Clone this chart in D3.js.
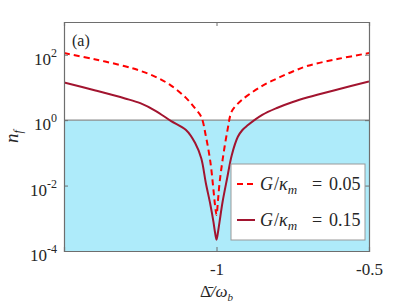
<!DOCTYPE html>
<html>
<head>
<meta charset="utf-8">
<script src="https://cdn.jsdelivr.net/npm/d3@7"></script>
<style>
  body { margin: 0; background: #fff; }
  svg { display: block; }
  svg text { font-family: 'Liberation Serif', 'DejaVu Serif', serif !important; }
</style>
</head>
<body>
<svg id="chart" width="407" height="305" font-family="Liberation Serif"></svg>
<script>
// detuning samples (Delta bar / omega_b)
var delta = [-1.5, -1.4, -1.3, -1.25, -1.2, -1.15, -1.1, -1.07, -1.05, -1.035, -1.02, -1.01, -1.005, -1,
  -0.995, -0.99, -0.98, -0.965, -0.95, -0.93, -0.915, -0.9, -0.85, -0.8, -0.75, -0.7, -0.6, -0.5];

// n_f for G/kappa_m = 0.05 (dashed)
var nfWeak = [112, 72.6, 44.4, 32.3, 21.1, 11.6, 4.8, 2.28, 1.26, 0.33, 0.052, 0.0074, 0.0026, 0.00126,
  0.0036, 0.012, 0.061, 0.44, 1.86, 3.2, 4.3, 5.5, 11.2, 19.1, 30.7, 46, 75, 112];

// n_f for G/kappa_m = 0.15 (solid)
var nfStrong = [14.2, 8.2, 4.6, 3.3, 1.93, 0.95, 0.5, 0.2, 0.068, 0.012, 0.0026, 0.00078, 0.00038, 0.00022,
  0.00038, 0.00078, 0.0032, 0.017, 0.085, 0.31, 0.5, 0.67, 1.45, 2.4, 3.6, 5.0, 8.8, 15.2];

var xTicks = [-1, -0.5];
var xTickLabels = ['-1', '-0.5'];
var yTicks = [1e-4, 1e-2, 1, 1e2];
var yTickExps = ['-4', '-2', '0', '2'];

var legendLabels = ['0.05', '0.15'];

(function() {
  'use strict';

  var margin = { left: 64, top: 22, right: 38, bottom: 54 };
  var width = 407 - margin.left - margin.right;
  var height = 305 - margin.top - margin.bottom;

  var svg = d3.select('#chart');
  var g = svg.append('g').attr('transform', 'translate(' + margin.left + ',' + margin.top + ')');

  var x = d3.scaleLinear().domain([-1.5, -0.5]).range([0, width]);
  var y = d3.scaleLog().domain([1e-4, 1e3]).range([height, 0]);

  svg.append('defs').append('clipPath').attr('id', 'plotClip')
    .append('rect').attr('width', width).attr('height', height);

  // shaded region n_f < 1
  g.append('rect')
    .attr('x', 0).attr('width', width)
    .attr('y', y(1)).attr('height', y(1e-4) - y(1))
    .attr('fill', '#aeebfa');
  g.append('line')
    .attr('x1', 0).attr('x2', width).attr('y1', y(1)).attr('y2', y(1))
    .style('stroke', '#8c8c8c').style('stroke-width', 1.2);

  var line = d3.line().curve(d3.curveCatmullRom.alpha(0.5));

  function pts(vals) {
    return delta.map(function(d, i) { return [x(d), y(vals[i])]; });
  }

  var curves = g.append('g').attr('clip-path', 'url(#plotClip)');
  curves.append('path')
    .attr('d', line(pts(nfStrong)))
    .attr('fill', 'none')
    .style('stroke', '#a2142f').style('stroke-width', 2);
  curves.append('path')
    .attr('d', line(pts(nfWeak)))
    .attr('fill', 'none')
    .style('stroke', '#ff0000').style('stroke-width', 2)
    .style('stroke-dasharray', '6,4');

  // axes (ticks inside, box on)
  var xAxis = g.append('g').attr('transform', 'translate(0,' + height + ')')
    .call(d3.axisBottom(x).tickValues(xTicks).tickSize(-4).tickFormat(function(d, i) { return xTickLabels[i]; }));
  xAxis.attr('font-family', null).attr('font-size', null);
  xAxis.selectAll('text').attr('y', 24).attr('dy', null).style('font-size', '17px');
  g.append('g')
    .call(d3.axisTop(x).tickValues(xTicks).tickSize(-4).tickFormat(''));

  g.append('g')
    .call(d3.axisLeft(y).tickValues(yTicks).tickSize(-4).tickFormat(''));
  g.append('g').attr('transform', 'translate(' + width + ',0)')
    .call(d3.axisRight(y).tickValues(yTicks).tickSize(-4).tickFormat(''));

  g.selectAll('.domain').style('stroke', '#6e6e6e').style('stroke-width', 1.2);
  g.selectAll('.tick line').style('stroke', '#6e6e6e');

  yTicks.forEach(function(v, i) {
    var t = g.append('text')
      .attr('x', -7)
      .attr('y', y(v) + 10)
      .attr('text-anchor', 'end')
      .style('font-size', '17px');
    t.append('tspan').text('10');
    t.append('tspan').attr('dy', -8).style('font-size', '12px').text(yTickExps[i]);
  });

  // axis labels
  var xl = svg.append('text')
    .attr('x', margin.left + x(-1))
    .attr('y', 297)
    .attr('text-anchor', 'middle')
    .style('font-size', '17px');
  xl.append('tspan').text('\u0394\u0304');
  xl.append('tspan').style('font-style', 'italic').text('/\u03c9');
  xl.append('tspan').attr('dy', 4).style('font-size', '11px').style('font-style', 'italic').text('b');

  var yl = svg.append('text')
    .attr('transform', 'translate(18,' + (margin.top + height / 2) + ') rotate(-90)')
    .attr('text-anchor', 'middle')
    .style('font-size', '19px')
    .style('font-style', 'italic');
  yl.append('tspan').text('n');
  yl.append('tspan').attr('dy', 4).style('font-size', '12px').text('f');

  g.append('text')
    .attr('x', 8).attr('y', 24)
    .style('font-size', '16px')
    .text('(a)');

  // legend
  var lg = g.append('g').attr('transform', 'translate(' + (width - 138) + ',' + (height - 87) + ')');
  lg.append('rect')
    .attr('width', 134).attr('height', 76)
    .attr('fill', '#fff')
    .style('stroke', '#999').style('stroke-width', 1);

  var legendStyles = [
    { color: '#ff0000', dash: '6,4' },
    { color: '#a2142f', dash: null }
  ];

  legendLabels.forEach(function(label, i) {
    var ly = 20 + i * 36;
    lg.append('line')
      .attr('x1', 6).attr('x2', 24).attr('y1', ly).attr('y2', ly)
      .style('stroke', legendStyles[i].color)
      .style('stroke-width', 2)
      .style('stroke-dasharray', legendStyles[i].dash);

    var t = lg.append('text')
      .attr('x', 29).attr('y', ly + 6)
      .style('font-size', '18px');
    t.append('tspan').style('font-style', 'italic').text('G');
    t.append('tspan').attr('dx', 1).text('/');
    t.append('tspan').style('font-style', 'italic').text('\u03ba');
    t.append('tspan').attr('dy', 4).style('font-size', '13px').style('font-style', 'italic').text('m');
    t.append('tspan').attr('x', 81).attr('dy', -4).text('=');
    t.append('tspan').attr('x', 98).text(label);
  });

  svg.selectAll('text').style('fill', '#262626');
})();
</script>
</body>
</html>
